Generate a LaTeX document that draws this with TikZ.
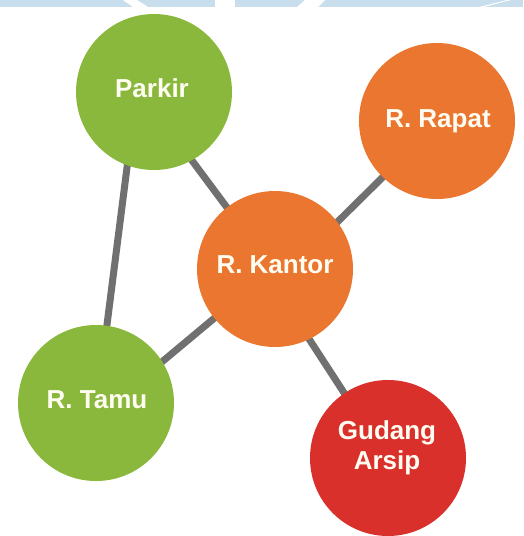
\documentclass[tikz,border=0pt]{standalone}
\usepackage{fontspec}
\setmainfont{Liberation Sans}
\usetikzlibrary{backgrounds}
\definecolor{cgreen}{HTML}{8AB83D}
\definecolor{corange}{HTML}{EA7630}
\definecolor{cred}{HTML}{D9302B}
\definecolor{cgray}{HTML}{707070}
\definecolor{cband}{HTML}{C9DEED}
\definecolor{ctext}{HTML}{FFFDF2}
\tikzset{
  room/.style={circle, minimum size=156pt, inner sep=0pt},
  lbl/.style={inner sep=0pt, text=ctext, font=\bfseries\fontsize{26pt}{30pt}\selectfont},
  oneline/.style={text height=18.5pt, text depth=0pt},
  link/.style={draw=cgray, line width=7pt, shorten <=-8pt, shorten >=-8pt}
}
\begin{document}
\begin{tikzpicture}[x=1pt,y=-1pt]
\useasboundingbox (0,0) rectangle (523,536);
% rooms
\node[room, fill=cgreen] (parkir) at (154,92) {};
\node[room, fill=corange] (rapat) at (437,121) {};
\node[room, fill=corange] (kantor) at (275,269) {};
\node[room, fill=cgreen] (tamu) at (96,403) {};
\node[room, fill=cred] (gudang) at (388,458) {};
% labels
\node[lbl, oneline] (tparkir) at (152,88) {Parkir};
\node[lbl, oneline] (trapat) at (438,118) {R. Rapat};
\node[lbl, oneline] (tkantor) at (275,264) {R. Kantor};
\node[lbl, oneline] (ttamu) at (97,399) {R. Tamu};
\node[lbl, align=center] (tgudang) at (387,448) {Gudang\\Arsip};
% links (behind)
\begin{scope}[on background layer]
\fill[white] (0,0) rectangle (523,536);
% faint top band
\fill[cband] (0,0) rectangle (523,7);
\fill[white] (123,0) -- (137,0) -- (148,7) -- (133,7) -- cycle;
\fill[white] (215,0) rectangle (235,7);
\fill[white] (305,0) -- (325,0) -- (318,7) -- (297,7) -- cycle;
\fill[white] (507,0) -- (511,0) -- (484,7) -- (479,7) -- cycle;
\draw[link] (parkir.250.9) -- (tamu.82.8);
\draw[link] (parkir.299.8) -- (kantor.128.1);
\draw[link] (rapat.226) -- (kantor.37.7);
\draw[link] (kantor.219.5) -- (tamu.32.5);
\draw[link] (kantor.296.3) -- (gudang.124.3);
\end{scope}
\end{tikzpicture}
\end{document}
